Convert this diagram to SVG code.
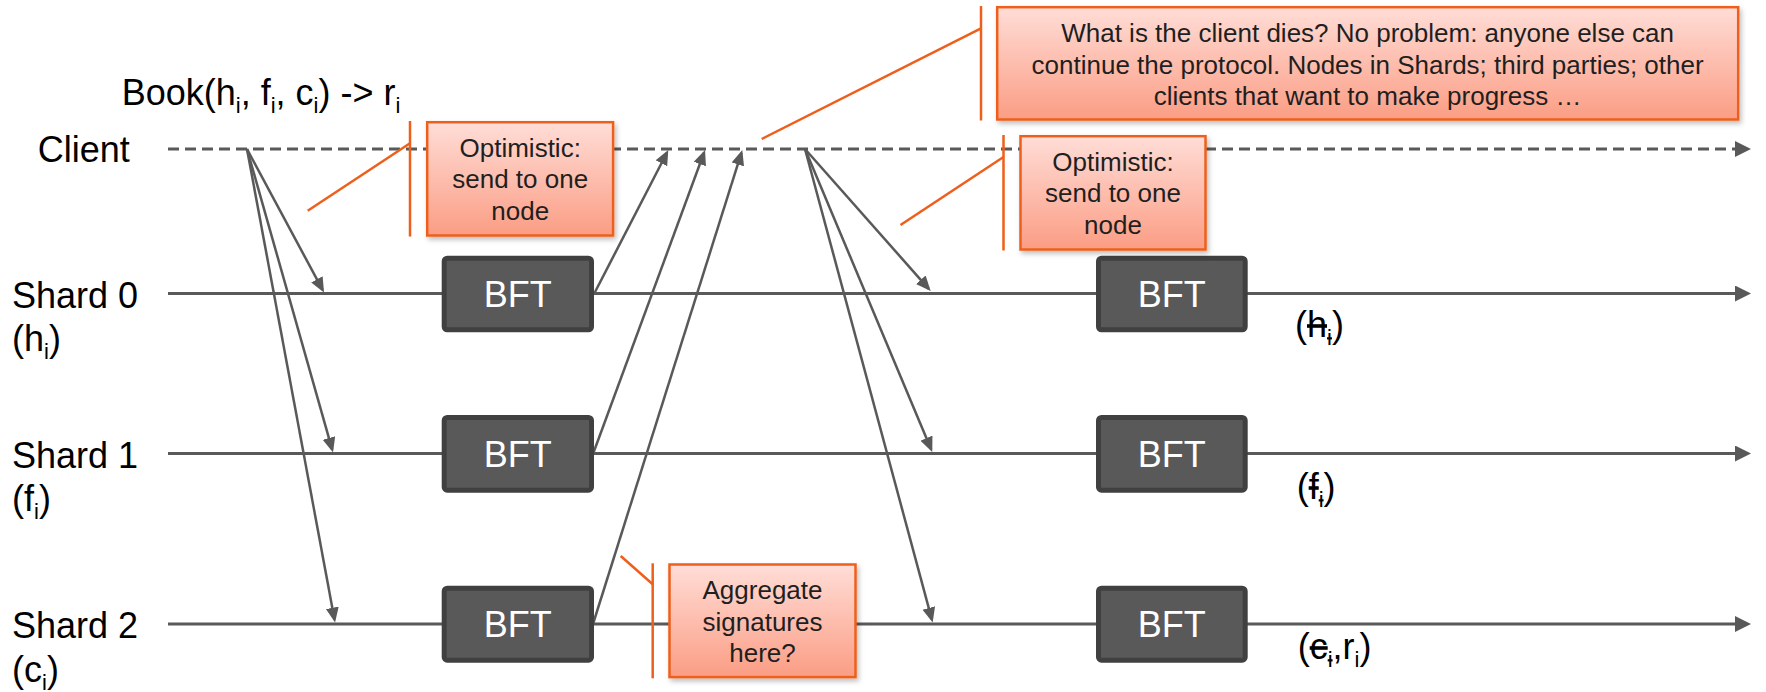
<svg xmlns="http://www.w3.org/2000/svg" width="1766" height="692" viewBox="0 0 1766 692">
  <style>
    .lbl { font-family: "Liberation Sans", Arial, sans-serif; font-size: 36px; fill: #000; }
    .sub { font-size: 22px; }
    .strike { text-decoration: line-through; }
    .timeline { stroke: #595959; stroke-width: 3; fill: none; }
    .dashed { stroke-dasharray: 11 6; }
    .msg { stroke: #595959; stroke-width: 2.5; fill: none; marker-end: url(#head); }
    .bft rect { fill: #595959; stroke: #404040; stroke-width: 5; }
    .bft text { font-family: "Liberation Sans", Arial, sans-serif; font-size: 36px; fill: #fff; text-anchor: middle; }
    .note rect { fill: url(#noteFill); stroke: #EE5F1B; stroke-width: 2.5; filter: url(#shadow); }
    .note text { font-family: "Liberation Sans", Arial, sans-serif; font-size: 26px; fill: #1f1f1f; text-anchor: middle; }
    .leader { stroke: #EE5F1B; stroke-width: 2.5; fill: none; }
  </style>
  <defs>
    <linearGradient id="noteFill" x1="0" y1="0" x2="0" y2="1">
      <stop offset="0" stop-color="#FFDDD7"/>
      <stop offset="1" stop-color="#FB9D84"/>
    </linearGradient>
    <filter id="shadow" x="-10%" y="-10%" width="130%" height="140%">
      <feDropShadow dx="2" dy="3" stdDeviation="2.5" flood-color="#000" flood-opacity="0.25"/>
    </filter>
    <marker id="head" markerUnits="userSpaceOnUse" markerWidth="16" markerHeight="14" refX="12" refY="6.5" orient="auto">
      <path d="M0,0 L15,6.5 L0,13 z" fill="#595959"/>
    </marker>
    <marker id="bighead" markerUnits="userSpaceOnUse" markerWidth="17" markerHeight="17" refX="0" refY="8" orient="auto">
      <path d="M0,0 L16,8 L0,16 z" fill="#595959"/>
    </marker>
  </defs>

  <rect width="1766" height="692" fill="#fff"/>

  <!-- time lines for the client and the three shards -->
  <g id="timelines">
    <line class="timeline dashed" x1="168" y1="149" x2="1735" y2="149" marker-end="url(#bighead)"/>
    <line class="timeline" x1="168" y1="293.5" x2="1735" y2="293.5" marker-end="url(#bighead)"/>
    <line class="timeline" x1="168" y1="453.5" x2="1735" y2="453.5" marker-end="url(#bighead)"/>
    <line class="timeline" x1="168" y1="624" x2="1735" y2="624" marker-end="url(#bighead)"/>
  </g>

  <!-- messages between client and shards -->
  <g id="connectors">
    <line class="msg" x1="247" y1="149" x2="322.6" y2="289.9"/>
    <line class="msg" x1="247" y1="149" x2="332.2" y2="449.6"/>
    <line class="msg" x1="247" y1="149" x2="334.5" y2="619.6"/>
    <line class="msg" x1="594" y1="294" x2="666.9" y2="152.7"/>
    <line class="msg" x1="593" y1="454" x2="704" y2="152.8"/>
    <line class="msg" x1="593" y1="624" x2="741.4" y2="152.9"/>
    <line class="msg" x1="805" y1="149" x2="928.7" y2="288.8"/>
    <line class="msg" x1="805" y1="149" x2="931.1" y2="449.2"/>
    <line class="msg" x1="805" y1="149" x2="931.9" y2="619.6"/>
  </g>

  <!-- BFT consensus rounds -->
  <g id="bft-s0-a" class="bft"><rect x="444.2" y="258.2" width="147.3" height="71.6" rx="3"/><text x="517.8" y="307">BFT</text></g>
  <g id="bft-s1-a" class="bft"><rect x="444.2" y="417.5" width="147.3" height="72.7" rx="3"/><text x="517.8" y="466.8">BFT</text></g>
  <g id="bft-s2-a" class="bft"><rect x="444.2" y="588.2" width="147.3" height="72" rx="3"/><text x="517.8" y="637">BFT</text></g>
  <g id="bft-s0-b" class="bft"><rect x="1098.5" y="258.2" width="146.7" height="71.6" rx="3"/><text x="1171.8" y="307">BFT</text></g>
  <g id="bft-s1-b" class="bft"><rect x="1098.5" y="417.5" width="146.7" height="72.7" rx="3"/><text x="1171.8" y="466.8">BFT</text></g>
  <g id="bft-s2-b" class="bft"><rect x="1098.5" y="588.2" width="146.7" height="72" rx="3"/><text x="1171.8" y="637">BFT</text></g>

  <!-- row labels -->
  <g id="label-book">
    <text class="lbl" x="121.7" y="105">Book(h<tspan class="sub" dy="8">i</tspan><tspan dy="-8">, f</tspan><tspan class="sub" dy="8">i</tspan><tspan dy="-8">, c</tspan><tspan class="sub" dy="8">i</tspan><tspan dy="-8">) -&gt; r</tspan><tspan class="sub" dy="8">i</tspan></text>
  </g>
  <g id="label-client"><text class="lbl" x="37.7" y="162">Client</text></g>
  <g id="label-shard0">
    <text class="lbl" x="12" y="307.5">Shard 0</text>
    <text class="lbl" x="12" y="351">(h<tspan class="sub" dy="8">i</tspan><tspan dy="-8">)</tspan></text>
  </g>
  <g id="label-shard1">
    <text class="lbl" x="12" y="467.7">Shard 1</text>
    <text class="lbl" x="12" y="511">(f<tspan class="sub" dy="8">i</tspan><tspan dy="-8">)</tspan></text>
  </g>
  <g id="label-shard2">
    <text class="lbl" x="12" y="638">Shard 2</text>
    <text class="lbl" x="12" y="681.5">(c<tspan class="sub" dy="8">i</tspan><tspan dy="-8">)</tspan></text>
  </g>

  <!-- shard state after commit -->
  <g id="state-shard0"><text class="lbl" x="1295" y="337">(<tspan class="strike">h</tspan><tspan class="sub strike" dy="8">i</tspan><tspan dy="-8">)</tspan></text></g>
  <g id="state-shard1"><text class="lbl" x="1296.7" y="499">(<tspan class="strike">f</tspan><tspan class="sub strike" dy="8">i</tspan><tspan dy="-8">)</tspan></text></g>
  <g id="state-shard2"><text class="lbl" x="1297.7" y="659">(<tspan class="strike">c</tspan><tspan class="sub strike" dy="8">i</tspan><tspan dy="-8">,r</tspan><tspan class="sub" dy="8">i</tspan><tspan dy="-8">)</tspan></text></g>

  <!-- notes with leader lines -->
  <g id="note-optimistic-1" class="note">
    <line class="leader" x1="307.7" y1="210.7" x2="410" y2="143.3"/>
    <line class="leader" x1="410" y1="121" x2="410" y2="236.5"/>
    <rect x="427.2" y="122.2" width="185.9" height="113.3"/>
    <text x="520.2" y="156.7">Optimistic:</text>
    <text x="520.2" y="188.3">send to one</text>
    <text x="520.2" y="220">node</text>
  </g>
  <g id="note-optimistic-2" class="note">
    <line class="leader" x1="900.5" y1="225" x2="1003.5" y2="157"/>
    <line class="leader" x1="1003.5" y1="135" x2="1003.5" y2="250.5"/>
    <rect x="1020.5" y="136.2" width="185" height="113.3"/>
    <text x="1113" y="170.7">Optimistic:</text>
    <text x="1113" y="202.3">send to one</text>
    <text x="1113" y="234">node</text>
  </g>
  <g id="note-client-dies" class="note">
    <line class="leader" x1="761.7" y1="139" x2="981" y2="28.3"/>
    <line class="leader" x1="981" y1="6" x2="981" y2="120.5"/>
    <rect x="997.2" y="7.2" width="741" height="112.3"/>
    <text x="1367.6" y="41.7">What is the client dies? No problem: anyone else can</text>
    <text x="1367.6" y="73.5">continue the protocol. Nodes in Shards; third parties; other</text>
    <text x="1367.6" y="105.2">clients that want to make progress …</text>
  </g>
  <g id="note-aggregate" class="note">
    <line class="leader" x1="620.7" y1="556" x2="652.7" y2="584.3"/>
    <line class="leader" x1="652.7" y1="563.3" x2="652.7" y2="678.3"/>
    <rect x="669.5" y="564.5" width="186" height="112.6"/>
    <text x="762.5" y="599">Aggregate</text>
    <text x="762.5" y="630.5">signatures</text>
    <text x="762.5" y="662">here?</text>
  </g>
</svg>
